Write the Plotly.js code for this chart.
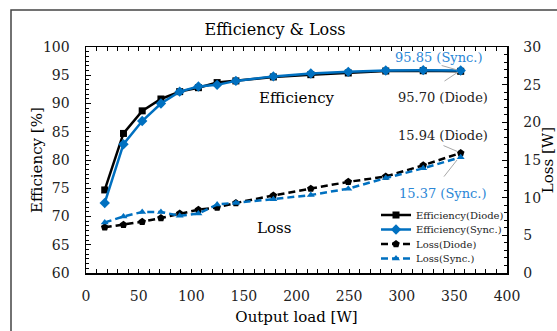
<!DOCTYPE html>
<html>
<head>
<meta charset="utf-8">
<script src="https://cdn.plot.ly/plotly-3.0.1.min.js"></script>
<style>
html,body{margin:0;padding:0;background:#fff;}
#chart{width:557px;height:331px;}
</style>
</head>
<body>
<div id="chart"></div>
<script>
// Output load [W]
const outputLoad = [17.8, 35.6, 53.4, 71.2, 89, 106.8, 124.6, 142.4, 178, 213.6, 249.2, 284.8, 320.4, 356];
// Efficiency [%]
const effDiode = [74.7, 84.7, 88.7, 90.8, 92.1, 92.8, 93.7, 94.0, 94.7, 95.1, 95.4, 95.75, 95.8, 95.70];
const effSync  = [72.4, 82.8, 86.9, 90.0, 92.1, 93.0, 93.3, 94.0, 94.8, 95.3, 95.6, 95.85, 95.9, 95.85];
// Loss [W]
const lossDiode = [6.07, 6.4, 6.8, 7.3, 7.9, 8.4, 8.7, 9.3, 10.3, 11.2, 12.1, 12.8, 14.3, 15.94];
const lossSync  = [6.7, 7.5, 8.1, 8.1, 7.6, 7.9, 9.1, 9.3, 9.8, 10.35, 11.2, 12.6, 13.9, 15.37];

const seriesNames = ['Efficiency(Diode)', 'Efficiency(Sync.)', 'Loss(Diode)', 'Loss(Sync.)'];
const titleText = 'Efficiency &amp; Loss';
const xTitle = 'Output load [W]';
const yTitle = 'Efficiency [%]';
const y2Title = 'Loss [W]';

const BLUE = '#0070C0';
const BLUE_TXT = '#2a86d6';
const FONT = 'DejaVu Serif, serif';

const traces = [
  {x: outputLoad, y: effDiode, name: seriesNames[0], type: 'scatter', mode: 'lines+markers', legend: 'legend',
   line: {color: '#000', width: 2.5}, marker: {symbol: 'square', size: 7, color: '#000'}},
  {x: outputLoad, y: effSync, name: seriesNames[1], type: 'scatter', mode: 'lines+markers', legend: 'legend2',
   line: {color: BLUE, width: 2.5}, marker: {symbol: 'diamond', size: 8, color: BLUE}},
  {x: outputLoad, y: lossDiode, name: seriesNames[2], type: 'scatter', mode: 'lines+markers', yaxis: 'y2', legend: 'legend3',
   line: {color: '#000', width: 2.5, dash: '7px,4px'}, marker: {symbol: 'pentagon', size: 8, color: '#000'}},
  {x: outputLoad, y: lossSync, name: seriesNames[3], type: 'scatter', mode: 'lines+markers', yaxis: 'y2', legend: 'legend4',
   line: {color: BLUE, width: 2.5, dash: '7px,4px'}, marker: {symbol: 'triangle-up', size: 7, color: BLUE}}
];

const last = outputLoad.length - 1;
const leaderColor = '#a8a8a8';

const titleFont = {family: FONT, size: 15, color: '#000'};

const annotations = [
  {x: (37 - 86) / 421, y: 0.5, xref: 'paper', yref: 'paper', text: yTitle, textangle: -90, showarrow: false,
   xanchor: 'center', yanchor: 'middle', font: titleFont},
  {x: 200, y: 91.0, xref: 'x', yref: 'y', text: 'Efficiency', showarrow: false, font: {family: FONT, size: 15, color: '#000'}},
  {x: 179, y: 68.0, xref: 'x', yref: 'y', text: 'Loss', showarrow: false, font: {family: FONT, size: 15, color: '#000'}},
  {x: 335.4, y: 98.2, xref: 'x', yref: 'y', text: effSync[last].toFixed(2) + ' (Sync.)', showarrow: false, font: {family: FONT, size: 13, color: BLUE_TXT}},
  {x: 339, y: 91.0, xref: 'x', yref: 'y', text: effDiode[last].toFixed(2) + ' (Diode)', showarrow: false, font: {family: FONT, size: 13, color: '#222'}},
  {x: 339, y: 18.2, xref: 'x', yref: 'y2', text: lossDiode[last].toFixed(2) + ' (Diode)', showarrow: false, font: {family: FONT, size: 13, color: '#222'}},
  {x: 339, y: 10.6, xref: 'x', yref: 'y2', text: lossSync[last].toFixed(2) + ' (Sync.)', showarrow: false, font: {family: FONT, size: 13, color: BLUE_TXT}},
  // leader lines
  {x: 352.5, y: 95.95, ax: 336.5, ay: 96.8, xref: 'x', yref: 'y', axref: 'x', ayref: 'y', text: '', showarrow: true, arrowhead: 0, arrowwidth: 1, arrowcolor: leaderColor, standoff: 0, startstandoff: 0},
  {x: 353.4, y: 95.55, ax: 339.2, ay: 93.8, xref: 'x', yref: 'y', axref: 'x', ayref: 'y', text: '', showarrow: true, arrowhead: 0, arrowwidth: 1, arrowcolor: leaderColor, standoff: 0, startstandoff: 0},
  {x: 353.4, y: 16.1, ax: 338.2, ay: 17.0, xref: 'x', yref: 'y2', axref: 'x', ayref: 'y2', text: '', showarrow: true, arrowhead: 0, arrowwidth: 1, arrowcolor: leaderColor, standoff: 0, startstandoff: 0},
  {x: 352.5, y: 15.0, ax: 339, ay: 12.6, xref: 'x', yref: 'y2', axref: 'x', ayref: 'y2', text: '', showarrow: true, arrowhead: 0, arrowwidth: 1, arrowcolor: leaderColor, standoff: 0, startstandoff: 0}
];

const tickFont = {family: FONT, size: 14, color: '#222'};

function legendAt(rowY) {
  return {
    x: (376 - 86) / 421, xanchor: 'left', y: (273 - rowY) / 226, yanchor: 'middle',
    bgcolor: 'rgba(0,0,0,0)', borderwidth: 0,
    font: {family: FONT, size: 10, color: '#222'},
    itemwidth: 30
  };
}

const layout = {
  width: 557, height: 331,
  margin: {l: 86, r: 50, t: 47, b: 58, pad: 0},
  paper_bgcolor: '#fff', plot_bgcolor: '#fff',
  showlegend: true,
  hovermode: false,
  title: {text: titleText, x: 0.449, xref: 'paper', xanchor: 'center', y: 1 - 29/331, yref: 'container', yanchor: 'middle',
          font: {family: FONT, size: 16, color: '#000'}},
  xaxis: {
    range: [0, 400], dtick: 50, tick0: 0,
    showgrid: false, zeroline: false,
    showline: true, linecolor: '#000', linewidth: 1.5, mirror: 'ticks',
    ticks: 'inside', ticklen: 4, tickcolor: '#000', tickwidth: 1,
    minor: {dtick: 10, ticks: 'inside', ticklen: 4, tickcolor: '#000', tickwidth: 1, showgrid: false},
    tickfont: tickFont, ticklabelstandoff: 10,
    title: {text: xTitle, font: titleFont, standoff: 8}
  },
  yaxis: {
    range: [60, 100], dtick: 5, tick0: 60,
    showgrid: false, zeroline: false,
    showline: true, linecolor: '#000', linewidth: 1.5, mirror: false,
    ticks: 'inside', ticklen: 5, tickcolor: '#000', tickwidth: 1,
    minor: {dtick: 5/6, ticks: 'inside', ticklen: 3, tickcolor: '#000', tickwidth: 1, showgrid: false},
    tickfont: tickFont, ticklabelstandoff: 12
  },
  yaxis2: {
    range: [0, 30], dtick: 5, tick0: 0, overlaying: 'y', side: 'right',
    showgrid: false, zeroline: false,
    showline: true, linecolor: '#000', linewidth: 1.5,
    ticks: 'inside', ticklen: 5, tickcolor: '#000', tickwidth: 1,
    minor: {dtick: 1, ticks: 'inside', ticklen: 3, tickcolor: '#000', tickwidth: 1, showgrid: false},
    tickfont: tickFont, ticklabelstandoff: 12,
    title: {text: y2Title, font: titleFont, standoff: 13}
  },
  legend: legendAt(215),
  legend2: legendAt(229.5),
  legend3: legendAt(244),
  legend4: legendAt(258.5),
  annotations: annotations,
  shapes: [
    {type: 'rect', xref: 'paper', yref: 'paper', x0: (11 - 86) / 421, x1: 1.5, y0: -0.6, y1: (273 - 10) / 226,
     line: {color: '#444', width: 1.5}, fillcolor: 'rgba(0,0,0,0)', layer: 'below'}
  ]
};

Plotly.newPlot('chart', traces, layout, {displayModeBar: false, staticPlot: true});
</script>
</body>
</html>
